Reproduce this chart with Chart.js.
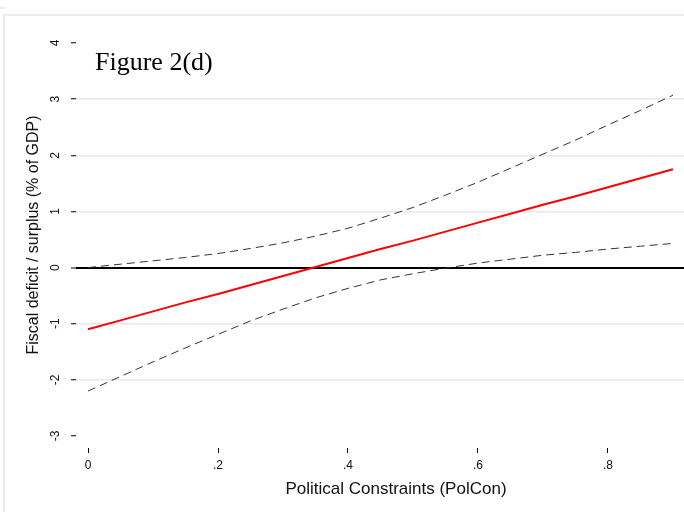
<!DOCTYPE html>
<html>
<head>
<meta charset="utf-8">
<script src="https://cdn.jsdelivr.net/npm/chart.js@4.4.1/dist/chart.umd.min.js"></script>
<style>
  html, body { margin: 0; padding: 0; background: #fff; overflow: hidden; }
  #wrap { position: relative; width: 684px; height: 512px; }
  #frame { position: absolute; left: 3px; top: 14px; right: 0; bottom: 0;
           border-top: 2px solid #ececec; border-left: 2px solid #ececec; }
  #notch { position: absolute; left: 0; top: 7px; width: 5px; height: 0; border-top: 2px solid #ececec; }
  canvas { position: absolute; left: 0; top: 0; }
</style>
</head>
<body>
<div id="wrap">
  <div id="frame"></div>
  <div id="notch"></div>
  <canvas id="c" width="684" height="512"></canvas>
</div>
<script>
// Political constraints (PolCon) evaluation points
const polcon  = [0, 0.05, 0.1, 0.15, 0.2, 0.25, 0.3, 0.35, 0.4, 0.45, 0.5,
                 0.55, 0.6, 0.65, 0.7, 0.75, 0.8, 0.85, 0.9];
// Marginal effect on fiscal balance (% of GDP)
const fitted  = [-1.10, -0.94, -0.78, -0.62, -0.47, -0.31, -0.15, 0.01, 0.17, 0.33, 0.48,
                 0.64, 0.80, 0.96, 1.12, 1.27, 1.43, 1.59, 1.75];
// Upper and lower confidence bounds
const upperCI = [0.00, 0.06, 0.12, 0.18, 0.25, 0.34, 0.44, 0.56, 0.70, 0.88, 1.07,
                 1.29, 1.52, 1.77, 2.02, 2.27, 2.54, 2.80, 3.07];
const lowerCI = [-2.20, -1.94, -1.68, -1.43, -1.19, -0.95, -0.74, -0.54, -0.37, -0.22, -0.11,
                 -0.01, 0.08, 0.15, 0.22, 0.27, 0.33, 0.38, 0.43];

const xTicks = [0, 0.2, 0.4, 0.6, 0.8];
const yTicks = [-3, -2, -1, 0, 1, 2, 3, 4];

const figureLabel = 'Figure 2(d)';
const xTitle = 'Political Constraints (PolCon)';
const yTitle = 'Fiscal deficit / surplus (% of GDP)';

const pts = ys => polcon.map((x, i) => ({ x: x, y: ys[i] }));

const tickFont = { family: '"Liberation Sans", Arial, sans-serif', size: 12 };

// Figure label and axis titles
const textLayer = {
  id: 'textLayer',
  afterDraw(chart) {
    const { ctx, chartArea: a } = chart;
    ctx.save();
    ctx.fillStyle = '#000';
    ctx.font = '26px "Liberation Serif", "Times New Roman", serif';
    ctx.textAlign = 'left';
    ctx.textBaseline = 'alphabetic';
    ctx.fillText(figureLabel, a.left + 19, a.top + 39);

    ctx.fillStyle = '#111';
    ctx.textAlign = 'center';
    ctx.textBaseline = 'middle';
    ctx.font = '17px "Liberation Sans", Arial, sans-serif';
    ctx.fillText(xTitle, 396, 489);
    ctx.font = '16px "Liberation Sans", Arial, sans-serif';
    ctx.translate(34, 235);
    ctx.rotate(-Math.PI / 2);
    ctx.fillText(yTitle, 0, 0);
    ctx.restore();
  }
};

new Chart(document.getElementById('c'), {
  type: 'line',
  data: {
    datasets: [
      { data: pts(upperCI), borderColor: '#333', borderWidth: 1, borderDash: [8, 5], pointRadius: 0, fill: false },
      { data: pts(lowerCI), borderColor: '#333', borderWidth: 1, borderDash: [8, 5], pointRadius: 0, fill: false },
      { data: pts(fitted), borderColor: '#ff0000', borderWidth: 2, pointRadius: 0, fill: false }
    ]
  },
  options: {
    responsive: false,
    animation: false,
    devicePixelRatio: 1,
    layout: { padding: { top: 31, right: 0, left: 0, bottom: 0 } },
    plugins: { legend: { display: false }, tooltip: { enabled: false } },
    scales: {
      x: {
        type: 'linear',
        min: -0.0185,
        max: 0.917,
        border: { display: false },
        grid: { drawOnChartArea: false, drawTicks: true, tickLength: 5, tickColor: '#000', tickWidth: 1 },
        ticks: {
          font: tickFont, color: '#111', padding: 5, maxRotation: 0,
          callback: v => v === 0 ? '0' : String(v).replace(/^0/, '')
        },
        afterBuildTicks: s => { s.ticks = xTicks.map(v => ({ value: v })); },
        afterFit: s => { s.height = 64; }
      },
      y: {
        min: -3.214,
        max: 4.214,
        border: { display: false },
        grid: {
          color: c => c.tick.value === 0 ? '#000' : (c.tick.value === -3 || c.tick.value === 4 ? 'rgba(0,0,0,0)' : '#e8e8e8'),
          lineWidth: c => c.tick.value === 0 ? 2 : 1.5,
          tickColor: '#000', tickWidth: 1, tickLength: 5
        },
        ticks: {
          font: tickFont, color: '#111', padding: 10,
          minRotation: 90, maxRotation: 90, crossAlign: 'center',
          callback: v => String(v)
        },
        afterBuildTicks: s => { s.ticks = yTicks.map(v => ({ value: v })); },
        afterFit: s => { s.width = 76; }
      }
    }
  },
  plugins: [textLayer]
});
</script>
</body>
</html>
